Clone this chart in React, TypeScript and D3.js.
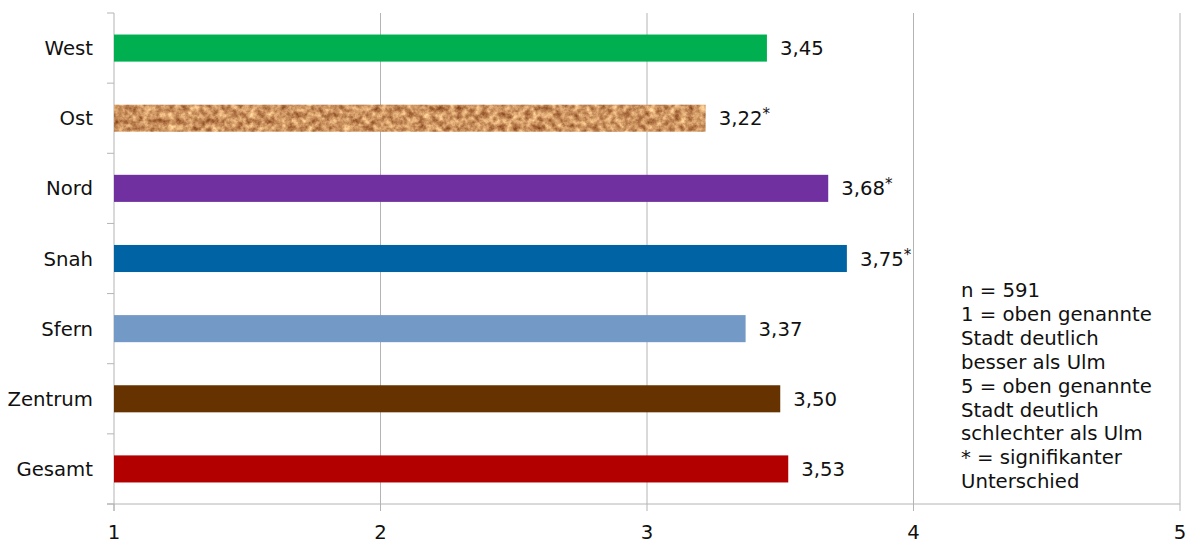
import React from "react";
import * as d3 from "d3";

const categories = ["West", "Ost", "Nord", "Snah", "Sfern", "Zentrum", "Gesamt"];
const values = [3.45, 3.22, 3.68, 3.75, 3.37, 3.5, 3.53];
const significant = [false, true, true, true, false, false, false];
const barColors = ["#00b050", "#c8925f", "#7030a0", "#0063a3", "#7399c6", "#663300", "#b20000"];
const xTicks = [1, 2, 3, 4, 5];
const noteLines = [
  "n = 591",
  "1 = oben genannte",
  "Stadt deutlich",
  "besser als Ulm",
  "5 = oben genannte",
  "Stadt deutlich",
  "schlechter als Ulm",
  "* = signifikanter",
  "Unterschied",
];

const W = 1187;
const H = 543;
const left = 114;
const right = 1180;
const top = 13;
const bottom = 504;
const font = "'DejaVu Sans', Verdana, sans-serif";
const gridColor = "#b4b4b4";
const fs = 19.7;

export default function App() {
  const x = d3.scaleLinear().domain([1, 5]).range([left, right]);
  const y = d3
    .scaleBand<string>()
    .domain(categories)
    .range([top, bottom])
    .paddingInner(0.614)
    .paddingOuter(0.307);
  const step = y.step();
  const fmt = (v: number) => v.toFixed(2).replace(".", ",");

  return (
    <svg
      width={W}
      height={H}
      style={{ position: "absolute", left: 0, top: 0, background: "#fff" }}
      fontFamily={font}
    >
      <defs>
        <filter
          id="cork"
          x="0"
          y="0"
          width="100%"
          height="100%"
          filterUnits="objectBoundingBox"
          colorInterpolationFilters="sRGB"
        >
          <feTurbulence type="fractalNoise" baseFrequency="0.16" numOctaves="4" seed="7" result="noise" />
          <feColorMatrix
            in="noise"
            type="matrix"
            values="0.7 0 0 0 0.45  0.8 0 0 0 0.18  0.7 0 0 0 0.03  0 0 0 0 1"
            result="col"
          />
          <feComposite in="col" in2="SourceGraphic" operator="in" />
        </filter>
      </defs>

      {/* vertical gridlines */}
      {xTicks.slice(1).map((t) => (
        <line key={"g" + t} x1={x(t)} x2={x(t)} y1={top} y2={bottom} stroke={gridColor} strokeWidth={1} />
      ))}

      {/* y axis */}
      <line x1={left} x2={left} y1={top} y2={bottom + 7} stroke={gridColor} strokeWidth={1} />
      {d3.range(categories.length + 1).map((i) => (
        <line
          key={"yt" + i}
          x1={left - 7}
          x2={left}
          y1={top + i * step}
          y2={top + i * step}
          stroke={gridColor}
          strokeWidth={1}
        />
      ))}

      {/* x axis */}
      <line x1={left - 7} x2={right} y1={bottom} y2={bottom} stroke={gridColor} strokeWidth={1} />
      {xTicks.map((t) => (
        <g key={"xt" + t}>
          <line x1={x(t)} x2={x(t)} y1={bottom} y2={bottom + 7} stroke={gridColor} strokeWidth={1} />
          <text x={x(t)} y={539} textAnchor="middle" fontSize={fs} fill="#111">
            {t}
          </text>
        </g>
      ))}

      {/* bars */}
      {categories.map((c, i) => {
        const yy = y(c)!;
        const isCork = i === 1;
        return (
          <g key={c}>
            <rect
              x={x(1)}
              y={yy}
              width={x(values[i]) - x(1)}
              height={y.bandwidth()}
              fill={barColors[i]}
              filter={isCork ? "url(#cork)" : undefined}
            />
            <text
              x={left - 21}
              y={yy + y.bandwidth() / 2 + 7}
              textAnchor="end"
              fontSize={fs}
              fill="#111"
            >
              {c}
            </text>
            <text x={x(values[i]) + 13} y={yy + y.bandwidth() / 2 + 7} fontSize={fs} fill="#111">
              {fmt(values[i])}
              {significant[i] ? (
                <tspan fontSize={15} dy={-6}>
                  *
                </tspan>
              ) : null}
            </text>
          </g>
        );
      })}

      {/* note */}
      <text x={961} y={297} fontSize={fs} fill="#111">
        {noteLines.map((l, i) => (
          <tspan key={i} x={961} y={297 + i * 23.9}>
            {l}
          </tspan>
        ))}
      </text>
    </svg>
  );
}
